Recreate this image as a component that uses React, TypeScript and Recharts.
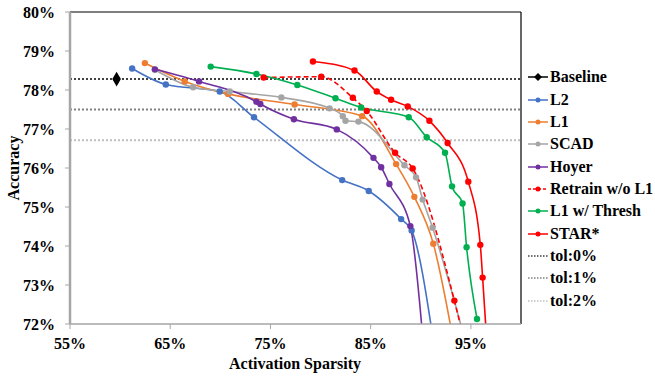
import React from "react";
import {
  ComposedChart,
  Line,
  Scatter,
  XAxis,
  YAxis,
  ReferenceLine,
} from "recharts";

const FONT = '"Liberation Serif", "Times New Roman", serif';

const xTicks = [55, 65, 75, 85, 95];
const yTicks = [72, 73, 74, 75, 76, 77, 78, 79, 80];

// [sparsity %, accuracy %]
const baseline = [[59.65, 78.28]];
const l2 = [
  [61.2, 78.55], [64.56, 78.14], [69.94, 77.96], [73.36, 77.3], [82.16, 75.69],
  [84.81, 75.41], [88.04, 74.69], [89.09, 74.4], [91.3, 71.5],
];
const l1 = [
  [62.47, 78.69], [66.45, 78.22], [70.77, 77.9], [77.41, 77.63], [84.15, 77.33],
  [87.54, 76.1], [89.36, 75.26], [91.25, 74.06], [93.3, 71.5],
];
const scad = [
  [63.47, 78.52], [67.28, 78.07], [70.94, 77.96], [76.09, 77.81], [80.9, 77.53],
  [82.22, 77.33], [82.49, 77.21], [83.78, 77.19], [88.37, 76.07], [89.53, 75.76],
  [90.19, 75.19], [91.18, 74.47], [94.5, 71.5],
];
const hoyer = [
  [63.47, 78.53], [67.88, 78.22], [73.6, 77.7], [73.99, 77.64], [77.34, 77.25],
  [81.62, 76.99], [85.28, 76.26], [86.05, 76.02], [86.87, 75.59], [88.96, 74.51],
  [90.25, 71.5],
];
const retrain = [
  [74.32, 78.32], [80.07, 78.34], [83.22, 77.8], [84.61, 77.46], [87.44, 76.39],
  [89.19, 75.99], [93.35, 72.6], [94.4, 71.5],
];
const thresh = [
  [69.04, 78.6], [73.6, 78.41], [77.68, 78.13], [81.49, 77.79], [84.05, 77.55],
  [88.8, 77.3], [90.59, 76.79], [92.42, 76.39], [93.12, 75.53], [94.17, 75.09],
  [94.57, 73.97], [95.61, 72.13],
];
const star = [
  [79.24, 78.73], [83.39, 78.5], [85.61, 77.96], [87.04, 77.75], [88.7, 77.58],
  [90.86, 77.21], [92.68, 76.64], [94.74, 75.65], [95.94, 74.03], [96.17, 73.19],
  [96.6, 71.5],
];

const tolNames = ["tol:0%", "tol:1%", "tol:2%"];
const tolValues = [78.28, 77.5, 76.71];
const tolColors = ["#404040", "#808080", "#BFBFBF"];

const toPts = (arr: number[][]) => arr.map(([x, y]) => ({ x, y }));

const series = [
  { name: "L2", data: l2, color: "#4472C4", dash: undefined },
  { name: "L1", data: l1, color: "#ED7D31", dash: undefined },
  { name: "SCAD", data: scad, color: "#A5A5A5", dash: undefined },
  { name: "Hoyer", data: hoyer, color: "#7030A0", dash: undefined },
  { name: "Retrain w/o L1", data: retrain, color: "#FF0000", dash: "5 3" },
  { name: "L1 w/ Thresh", data: thresh, color: "#00B050", dash: undefined },
  { name: "STAR*", data: star, color: "#FF0000", dash: undefined },
];

const textStyle = { fill: "#000", fontSize: 16, fontWeight: "bold", fontFamily: FONT };

function LegendBox() {
  const rows: { name: string; color: string; kind: string }[] = [
    { name: "Baseline", color: "#000", kind: "diamond" },
    ...series.map((s) => ({ name: s.name, color: s.color, kind: s.dash ? "dash" : "line" })),
    ...tolNames.map((n, i) => ({ name: n, color: tolColors[i], kind: "tol" })),
  ];
  return (
    <div style={{ position: "absolute", left: 527, top: 66, fontFamily: FONT, fontWeight: "bold", fontSize: 16 }}>
      {rows.map((r) => (
        <div key={r.name} style={{ display: "flex", alignItems: "center", height: 22.35 }}>
          <svg width={22} height={10} style={{ marginRight: 1 }}>
            {r.kind === "tol" ? (
              <line x1={1} y1={5} x2={21} y2={5} stroke={r.color} strokeWidth={1.5} strokeDasharray="1.5 1.5" />
            ) : (
              <line x1={1} y1={5} x2={21} y2={5} stroke={r.color} strokeWidth={1.5} strokeDasharray={r.kind === "dash" ? "3 2" : undefined} />
            )}
            {r.kind === "diamond" && <polygon points="11,1 15,5 11,9 7,5" fill="#000" />}
            {(r.kind === "line" || r.kind === "dash") && <circle cx={11} cy={5} r={2.5} fill={r.color} />}
          </svg>
          <span>{r.name}</span>
        </div>
      ))}
    </div>
  );
}

export default function App() {
  return (
    <div style={{ position: "relative", width: 655, height: 377, background: "#fff" }}>
      <style>{"body{margin:0}"}</style>
      <ComposedChart width={655} height={377} margin={{ top: 12, right: 134, bottom: 0, left: 0 }}>
        <XAxis
          dataKey="x"
          type="number"
          domain={[55, 100]}
          ticks={xTicks}
          tickFormatter={(v) => `${v}%`}
          height={53}
          tick={textStyle}
          tickSize={5}
          tickMargin={9}
          axisLine={{ stroke: "#A6A6A6", strokeWidth: 1.5 }}
          tickLine={{ stroke: "#A6A6A6" }}
          allowDuplicatedCategory={false}
        />
        <YAxis
          dataKey="y"
          type="number"
          domain={[72, 80]}
          ticks={yTicks}
          allowDataOverflow
          tickFormatter={(v) => `${v}%`}
          width={70}
          tick={textStyle}
          tickSize={5}
          tickMargin={10}
          axisLine={{ stroke: "#A6A6A6", strokeWidth: 2.5 }}
          tickLine={{ stroke: "#A6A6A6" }}
        />
        <ReferenceLine y={80} stroke="#000" strokeWidth={1.2} />
        <ReferenceLine x={100} stroke="#000" strokeWidth={1.2} />
        {tolValues.map((v, i) => (
          <ReferenceLine key={tolNames[i]} y={v} stroke={tolColors[i]} strokeWidth={2} strokeDasharray="2 2" />
        ))}
        {series.map((s) => (
          <Line
            key={s.name}
            name={s.name}
            data={toPts(s.data)}
            dataKey="y"
            type="monotone"
            stroke={s.color}
            strokeWidth={1.6}
            strokeDasharray={s.dash}
            dot={{ r: 3.2, fill: s.color, stroke: s.color, strokeWidth: 0, strokeDasharray: "" }}
            activeDot={false}
            isAnimationActive={false}
          />
        ))}
        <Scatter name="Baseline" data={toPts(baseline)} dataKey="y" fill="#000" shape="diamond" isAnimationActive={false} />
      </ComposedChart>
      <div style={{ position: "absolute", left: 227, top: 355, width: 136, textAlign: "center", fontFamily: FONT, fontWeight: "bold", fontSize: 16, whiteSpace: "nowrap" }}>
        Activation Sparsity
      </div>
      <div style={{ position: "absolute", left: 14, top: 168, transform: "translate(-50%,-50%) rotate(-90deg)", fontFamily: FONT, fontWeight: "bold", fontSize: 16, whiteSpace: "nowrap" }}>
        Accuracy
      </div>
      <LegendBox />
    </div>
  );
}
